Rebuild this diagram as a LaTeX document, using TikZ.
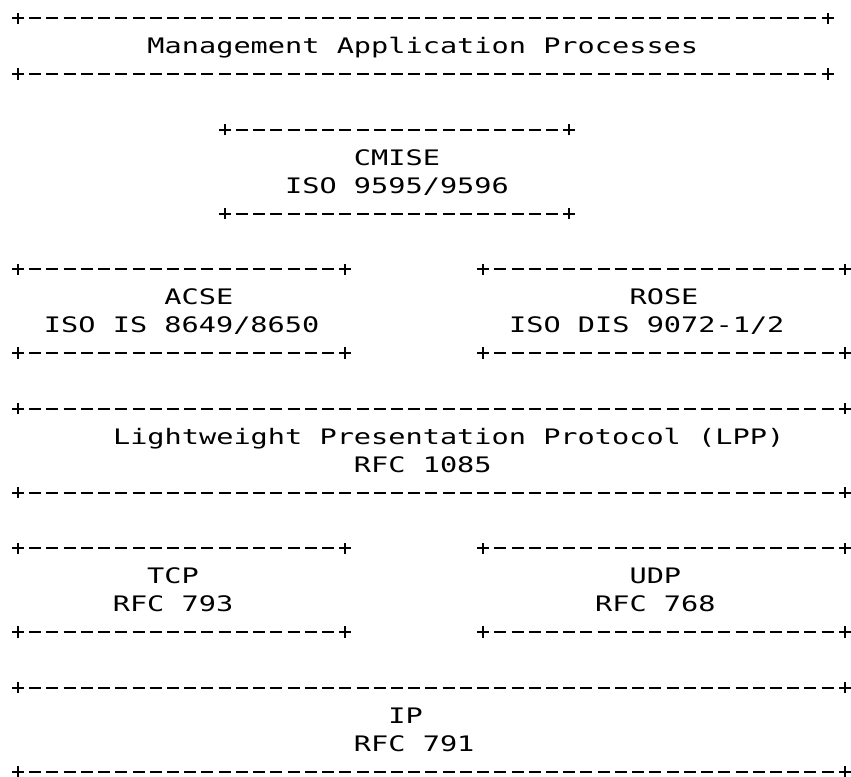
\documentclass[tikz,border=0pt]{standalone}
\usepackage{fontspec}
\usepackage{tikz}
\usetikzlibrary{positioning}
\newfontfamily\asciifont[FakeStretch=1.34]{DejaVu Sans Mono}

\begin{document}
\begin{tikzpicture}[
    x=12.92pt, y=-20.925pt,
    lbl/.style={anchor=base, inner sep=0pt, font=\asciifont\fontsize{16}{19}\selectfont},
    rule/.style={line width=1.5pt, dash pattern=on 9pt off 3.92pt},
    cross/.style={line width=1.5pt}
]
    \useasboundingbox (-13.5pt,13.7pt) rectangle (624.75pt,-569.05pt);

    % Box outlines: +-----+ rows above and below each layer
    \foreach \nm/\ca/\cb/\ra/\rb in {mgmt/0/47/0/2, cmise/12/32/4/7, acse/0/19/9/12, rose/27/48/9/12,
                                     lpp/0/48/14/17, tcp/0/19/19/22, udp/27/48/19/22, ip/0/48/24/27}{
        \coordinate (\nm-nw) at (\ca,\ra);
        \coordinate (\nm-ne) at (\cb,\ra);
        \coordinate (\nm-sw) at (\ca,\rb);
        \coordinate (\nm-se) at (\cb,\rb);
        \draw[rule] ([xshift=8.42pt]\nm-nw) -- ([xshift=-8.42pt]\nm-ne);
        \draw[rule] ([xshift=8.42pt]\nm-sw) -- ([xshift=-8.42pt]\nm-se);
        \foreach \c in {nw,ne,sw,se}
            \draw[cross] ([xshift=-4.5pt]\nm-\c) -- ([xshift=4.5pt]\nm-\c)
                         ([yshift=-4.2pt]\nm-\c) -- ([yshift=4.2pt]\nm-\c);
    }

    % Management layer
    \node[lbl] (mgmt) at (23.5,1.27) {Management Application Processes};

    % CMISE
    \node[lbl] (cmise) at (22,5.27) {CMISE};
    \node[lbl] (cmiseRef) at (22,6.27) {ISO 9595/9596};

    % ACSE and ROSE
    \node[lbl] (acse) at (10.5,10.27) {ACSE};
    \node[lbl] (acseRef) at (9.5,11.27) {ISO IS 8649/8650};
    \node[lbl] (rose) at (37.5,10.27) {ROSE};
    \node[lbl] (roseRef) at (36.5,11.27) {ISO DIS 9072-1/2};

    % Presentation
    \node[lbl] (lpp) at (25,15.27) {Lightweight Presentation Protocol (LPP)};
    \node[lbl] (lppRef) at (23.5,16.27) {RFC 1085};

    % Transport
    \node[lbl] (tcp) at (9,20.27) {TCP};
    \node[lbl] (tcpRef) at (9,21.27) {RFC 793};
    \node[lbl] (udp) at (37,20.27) {UDP};
    \node[lbl] (udpRef) at (37,21.27) {RFC 768};

    % Network
    \node[lbl] (ip) at (22.5,25.27) {IP};
    \node[lbl] (ipRef) at (23,26.27) {RFC 791};

\end{tikzpicture}
\end{document}
